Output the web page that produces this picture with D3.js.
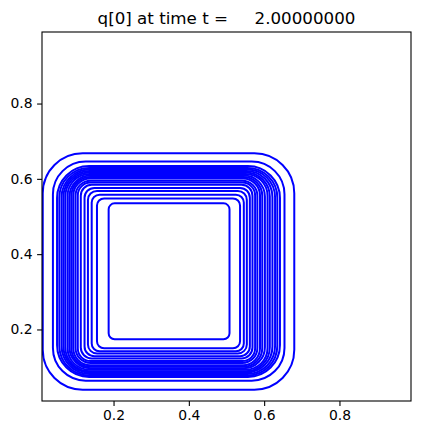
<!DOCTYPE html>
<html>
<head>
<meta charset="utf-8">
<script src="https://cdn.jsdelivr.net/npm/d3@7"></script>
<style>
  body { margin: 0; background: white; }
  text { font-family: "DejaVu Sans", sans-serif; }
</style>
</head>
<body>
<svg width="421" height="435"></svg>
<script>
'use strict'

// contour levels, outermost first (data units)
var contourLeft   = [0.012, 0.039, 0.050, 0.056, 0.062, 0.067, 0.072, 0.078, 0.083, 0.088, 0.093, 0.099, 0.105, 0.113, 0.123, 0.132, 0.142, 0.156, 0.187];
var contourRight  = [0.680, 0.654, 0.642, 0.635, 0.629, 0.622, 0.615, 0.609, 0.602, 0.595, 0.589, 0.582, 0.576, 0.569, 0.562, 0.554, 0.546, 0.536, 0.508];
var contourTop    = [0.668, 0.646, 0.634, 0.629, 0.625, 0.621, 0.617, 0.613, 0.609, 0.605, 0.601, 0.595, 0.590, 0.584, 0.576, 0.568, 0.558, 0.548, 0.535];
var contourBottom = [0.040, 0.064, 0.074, 0.078, 0.082, 0.086, 0.089, 0.093, 0.097, 0.101, 0.105, 0.111, 0.116, 0.123, 0.129, 0.136, 0.142, 0.150, 0.174];
var contourRadius = [0.106, 0.087, 0.085, 0.079, 0.074, 0.069, 0.064, 0.058, 0.056, 0.050, 0.045, 0.040, 0.034, 0.029, 0.026, 0.024, 0.021, 0.019, 0.016];

var xTicks = [0.2, 0.4, 0.6, 0.8];
var yTicks = [0.2, 0.4, 0.6, 0.8];
var domainX = [0.01, 0.99];
var domainY = [0.01, 0.99];

var titleText = "q[0] at time t =     2.00000000";

var svg = d3.select("svg"),
  margin = { top: 32, right: 10, bottom: 34, left: 42 },
  width = +svg.attr("width") - margin.left - margin.right,
  height = +svg.attr("height") - margin.top - margin.bottom;

var x = d3.scaleLinear().domain(domainX).range([0, width]),
  y = d3.scaleLinear().domain(domainY).range([height, 0]);

var contours = contourLeft.map(function(d, i) {
  return {
    left: d,
    right: contourRight[i],
    top: contourTop[i],
    bottom: contourBottom[i],
    r: contourRadius[i]
  };
});

svg.append("defs").append("clipPath")
  .attr("id", "clip")
  .append("rect")
  .attr("width", width)
  .attr("height", height);

var focus = svg.append("g")
  .attr("transform", "translate(" + margin.left + "," + margin.top + ")");

// rounded box for one contour level
var roundedBox = function(d) {
  var x0 = x(d.left), x1 = x(d.right),
    y0 = y(d.top), y1 = y(d.bottom),
    r = Math.abs(x(d.r) - x(0));
  var p = d3.path();
  p.moveTo(x0 + r, y0);
  p.arcTo(x1, y0, x1, y1, r);
  p.arcTo(x1, y1, x0, y1, r);
  p.arcTo(x0, y1, x0, y0, r);
  p.arcTo(x0, y0, x1, y0, r);
  p.closePath();
  return p.toString();
};

focus.append("g")
  .attr("clip-path", "url(#clip)")
  .selectAll("path")
  .data(contours)
  .enter()
  .append("path")
  .attr("d", roundedBox)
  .attr("fill", "none")
  .attr("stroke", "#0000ff")
  .attr("stroke-width", 2)
  .attr("stroke-linejoin", "round");

// axes, matplotlib look
var xAxis = d3.axisBottom(x).tickValues(xTicks).tickSize(4.9).tickPadding(4.5).tickFormat(d3.format(".1f")),
  yAxis = d3.axisLeft(y).tickValues(yTicks).tickSize(4.9).tickPadding(4.5).tickFormat(d3.format(".1f"));

var gx = focus.append("g")
  .attr("transform", "translate(0," + height + ")")
  .call(xAxis);
var gy = focus.append("g")
  .call(yAxis);

[gx, gy].forEach(function(g) {
  g.select(".domain").remove();
  g.selectAll("line").attr("stroke", "black").attr("stroke-width", 1.1);
  g.selectAll("text")
    .attr("fill", "black")
    .style("font-family", "DejaVu Sans")
    .style("font-size", "13.9px");
});

focus.append("rect")
  .attr("width", width)
  .attr("height", height)
  .attr("fill", "none")
  .attr("stroke", "black")
  .attr("stroke-width", 1.1);

svg.append("text")
  .attr("x", margin.left + width / 2)
  .attr("y", 24)
  .attr("text-anchor", "middle")
  .style("font-size", "16.7px")
  .style("white-space", "pre")
  .attr("xml:space", "preserve")
  .text(titleText);
</script>
</body>
</html>
